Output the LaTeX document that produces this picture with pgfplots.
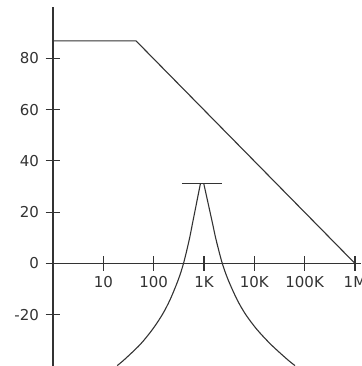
\documentclass[border=0pt]{standalone}
\usepackage{pgfplots}
\pgfplotsset{compat=1.18}
\usepackage{fontspec}
\setmainfont{DejaVu Sans}
\definecolor{ink}{HTML}{333333}
\begin{document}
\begin{tikzpicture}
\begin{axis}[
  at={(0,0)}, anchor=south west, scale only axis,
  width=308pt, height=359pt,
  xmode=log, xmin=1, xmax=1.318e6, ymin=-40, ymax=100,
  axis x line=middle, axis y line=left,
  axis line style={-, line width=1.1pt, ink},
  xtick={10,100,1000,10000,100000,1000000},
  xticklabels={10,100,1K,10K,100K,1M},
  ytick={-20,0,20,40,60,80},
  yticklabels={-20,0,20,40,60,80},
  xminorticks=false, yminorticks=false,
  hide obscured x ticks=false, hide obscured y ticks=false,
  tick align=center, major tick length=15pt,
  tick style={line width=1.1pt, ink},
  tick label style={font=\fontsize{15}{18}\selectfont, text=ink},
  xticklabel style={yshift=-2pt},
  yticklabel style={xshift=-3pt},
  clip=true,
]
\addplot[ink, line width=1.1pt] coordinates {(1,86.8) (44.6,86.8) (1000000,0)};
\addplot[ink, line width=1.4pt] coordinates {(363,31.2) (2290,31.2)};
\addplot[ink, line width=1.1pt, smooth, tension=0.5] coordinates {
  (18.9,-39.84) (26.2,-37.5) (53.8,-31.64) (94.4,-25.78) (149,-19.92)
  (213,-14.06) (310,-6.25) (397,0.39) (511,9.38) (597,16.02) (852,31.25)};
\addplot[ink, line width=1.1pt, smooth, tension=0.5] coordinates {
  (987,31.25) (1463,16.02) (1732,9.38) (2280,0.39) (3000,-6.25) (4529,-14.06)
  (6741,-19.92) (11300,-25.78) (21450,-31.64) (45630,-37.5) (64310,-39.84)};
\end{axis}
\pgfresetboundingbox
\useasboundingbox (-53pt,0pt) rectangle (308pt,366pt);
\end{tikzpicture}
\end{document}
